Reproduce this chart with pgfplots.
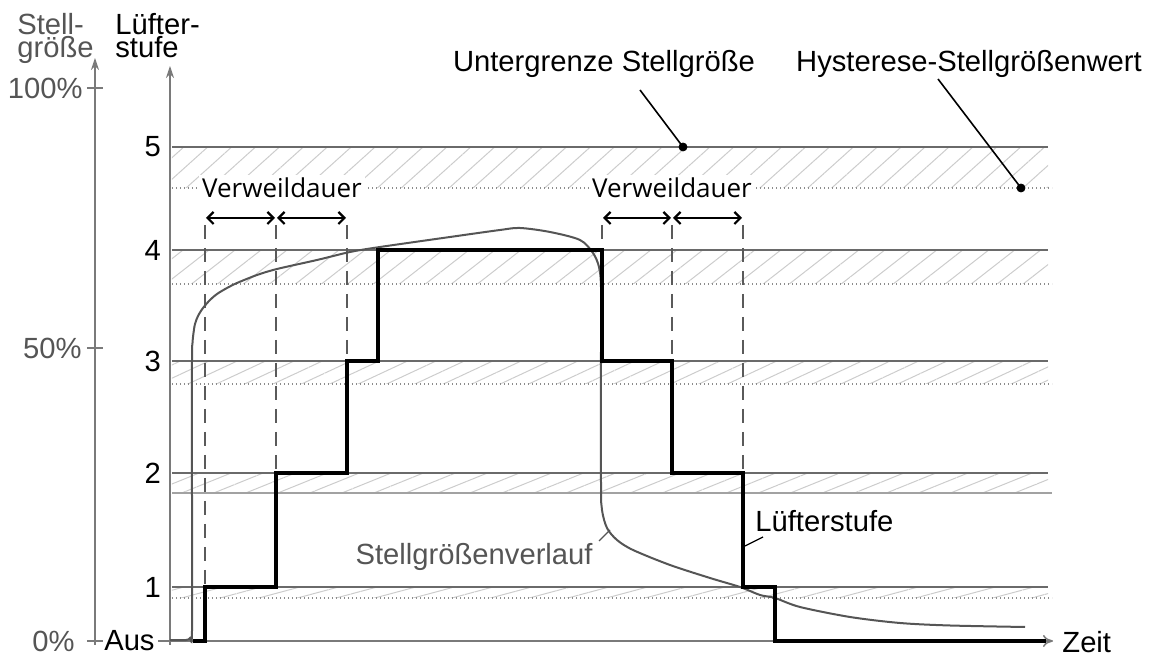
\documentclass[border=0pt]{standalone}
\usepackage{fontspec}
\setmainfont{Liberation Sans}
\newfontfamily\vwfont{Open Sans}
\usepackage{pgfplots}
\pgfplotsset{compat=1.18}
\usetikzlibrary{patterns.meta,arrows.meta}

\definecolor{axgray}{HTML}{7A7A7A}
\definecolor{linegray}{HTML}{6A6A6A}
\definecolor{dotgray}{HTML}{8C8C8C}
\definecolor{hatchgray}{HTML}{CCCCCC}
\definecolor{curvegray}{HTML}{555555}
\definecolor{dashgray}{HTML}{5A5A5A}

% schematic units: x = time, y = Stellgroesse (0 = Aus / 0 %)
\begin{document}
\begin{tikzpicture}[font=\fontsize{14.6}{17}\selectfont]
\begin{axis}[
    x=0.5pt, y=0.5pt,
    xmin=-12, xmax=883, ymin=-4, ymax=575,
    axis x line=center, axis y line=center,
    x axis line style={axgray, line width=0.75pt, -{To[length=5pt,width=6pt]}},
    y axis line style={axgray, line width=0.75pt, -{Stealth[length=6pt,width=4pt]}},
    xtick=\empty,
    ytick={54,168,280,391,494},
    yticklabels={1,2,3,4,5},
    major tick length=0pt,
    yticklabel style={anchor=east, xshift=-1pt},
    clip=false,
]

% hysteresis bands
\addplot[draw=none, pattern={Lines[angle=42,distance=8pt,line width=0.5pt]}, pattern color=hatchgray]
    coordinates {(2,453) (878,453) (878,494) (2,494)} -- cycle;
\addplot[draw=none, pattern={Lines[angle=38,distance=8pt,line width=0.5pt]}, pattern color=hatchgray]
    coordinates {(2,357) (878,357) (878,391) (2,391)} -- cycle;
\addplot[draw=none, pattern={Lines[angle=25,distance=6pt,line width=0.5pt]}, pattern color=hatchgray]
    coordinates {(2,257) (878,257) (878,280) (2,280)} -- cycle;
\addplot[draw=none, pattern={Lines[angle=22,distance=6pt,line width=0.5pt]}, pattern color=hatchgray]
    coordinates {(2,148) (878,148) (878,168) (2,168)} -- cycle;
\addplot[draw=none, pattern={Lines[angle=15,distance=5pt,line width=0.5pt]}, pattern color=hatchgray]
    coordinates {(2,43) (878,43) (878,54) (2,54)} -- cycle;

% level lines
\addplot[linegray, line width=0.6pt] coordinates {(2,494) (878,494)};
\addplot[linegray, line width=0.6pt] coordinates {(2,391) (878,391)};
\addplot[linegray, line width=0.6pt] coordinates {(2,280) (878,280)};
\addplot[linegray, line width=0.6pt] coordinates {(2,168) (878,168)};
\addplot[linegray, line width=0.6pt] coordinates {(2,54) (878,54)};

% hysteresis thresholds
\addplot[dotgray, line width=0.6pt, dash pattern=on 0.7pt off 1.3pt] coordinates {(2,453) (882,453)};
\addplot[dotgray, line width=0.6pt, dash pattern=on 0.7pt off 1.3pt] coordinates {(2,357) (882,357)};
\addplot[dotgray, line width=0.6pt, dash pattern=on 0.7pt off 1.3pt] coordinates {(2,257) (882,257)};
\addplot[axgray!70, line width=0.6pt] coordinates {(2,148) (882,148)};
\addplot[dotgray, line width=0.6pt, dash pattern=on 0.7pt off 1.3pt] coordinates {(2,43) (882,43)};

% dwell time markers
\addplot[dashgray, line width=0.7pt, dash pattern=on 7pt off 4.5pt] coordinates {(35,416) (35,54)};
\addplot[dashgray, line width=0.7pt, dash pattern=on 7pt off 4.5pt] coordinates {(106,416) (106,168)};
\addplot[dashgray, line width=0.7pt, dash pattern=on 7pt off 4.5pt] coordinates {(177,416) (177,280)};
\addplot[dashgray, line width=0.7pt, dash pattern=on 7pt off 4.5pt] coordinates {(432,416) (432,391)};
\addplot[dashgray, line width=0.7pt, dash pattern=on 7pt off 4.5pt] coordinates {(502,416) (502,280)};
\addplot[dashgray, line width=0.7pt, dash pattern=on 7pt off 4.5pt] coordinates {(573,416) (573,168)};

\draw[line width=1.1pt, {Straight Barb[length=3pt]}-{Straight Barb[length=3pt]}] (axis cs:36,423) -- (axis cs:105,423);
\draw[line width=1.1pt, {Straight Barb[length=3pt]}-{Straight Barb[length=3pt]}] (axis cs:107,423) -- (axis cs:176,423);
\draw[line width=1.1pt, {Straight Barb[length=3pt]}-{Straight Barb[length=3pt]}] (axis cs:433,423) -- (axis cs:501,423);
\draw[line width=1.1pt, {Straight Barb[length=3pt]}-{Straight Barb[length=3pt]}] (axis cs:503,423) -- (axis cs:572,423);

\node[fill=white, inner sep=1.5pt, font=\vwfont\fontsize{13}{15}\selectfont] at (axis cs:112,453) {Verweildauer};
\node[fill=white, inner sep=1.5pt, font=\vwfont\fontsize{13}{15}\selectfont] at (axis cs:502,453) {Verweildauer};

% Stellgroessenverlauf
\addplot[curvegray, line width=1pt, smooth, tension=0.5] coordinates {
    (0,1) (16,1) (20,3) (22,10) (22,150) (22,280) (22.5,298) (23.5,308)
    (25,317) (28,325) (33,333) (40,341) (47,347) (57,353) (67,358)
    (87,366) (107,372) (147,381) (180,389) (210,394) (280,404)
    (330,411) (350,413) (380,409) (410,401) (423,388) (429,374) (431,354)
    (431,300) (431,158) (432,131) (437,113) (447,101) (463,91) (500,76)
    (540,63) (570,54) (590,46) (605,43) (630,34) (680,24) (730,18)
    (780,15.5) (855,14)
};

% Luefterstufe
\addplot[black, line width=2pt, const plot] coordinates {
    (23,0) (35,54) (106,168) (177,280) (208,391) (432,280) (502,168)
    (573,54) (605,0) (876,0)
};

% annotation points
\addplot[black, only marks, mark=*, mark size=2pt] coordinates {(513,494) (851,453)};
\draw[black, line width=0.8pt] (axis cs:470,551) -- (axis cs:513,494);
\draw[black, line width=0.8pt] (axis cs:768,562) -- (axis cs:851,453);
\node[anchor=base] at (axis cs:434,569) {Untergrenze Stellgröße};
\node[anchor=base] at (axis cs:799,569) {Hysterese-Stellgrößenwert};

\node[anchor=base west, inner sep=0pt] at (axis cs:585,109) {Lüfterstufe};
\draw[black, line width=0.6pt] (axis cs:575,95) -- (axis cs:593,104);
\node[anchor=base east, inner sep=0pt, text=curvegray] at (axis cs:423,76) {Stellgrößenverlauf};
\draw[curvegray, line width=0.6pt] (axis cs:429,100) -- (axis cs:440,111);

% left axis (Stellgroesse)
\draw[axgray, line width=0.75pt, -{Stealth[length=6pt,width=4pt]}] (axis cs:-75,-4) -- (axis cs:-75,583);
\draw[axgray, line width=0.75pt] (axis cs:-83,553) -- (axis cs:-67,553);
\draw[axgray, line width=0.75pt] (axis cs:-83,293) -- (axis cs:-67,293);
\draw[axgray, line width=0.75pt] (axis cs:-83,0) -- (axis cs:-67,0);
\node[anchor=east, inner sep=0pt, text=curvegray] at (axis cs:-87,553) {100\%};
\node[anchor=east, inner sep=0pt, text=curvegray] at (axis cs:-88,293) {50\%};
\node[anchor=east, inner sep=0pt, text=curvegray] at (axis cs:-95,0) {0\%};
\node[anchor=north west, inner sep=0pt, align=left, text=curvegray,
      font=\fontsize{14.6}{11.5}\selectfont] at (axis cs:-153,628) {Stell-\\größe};
\node[anchor=north west, inner sep=0pt, align=left,
      font=\fontsize{14.6}{11.5}\selectfont] at (axis cs:-55,628) {Lüfter-\\stufe};
\node[anchor=east, inner sep=0pt] at (axis cs:-15,0) {Aus};
\node[anchor=base west, inner sep=0pt] at (axis cs:892,-12) {Zeit};

\coordinate (bbA) at (axis cs:-170,-16);
\coordinate (bbB) at (axis cs:986,641);
\end{axis}
\pgfresetboundingbox
\path[use as bounding box] (bbA) rectangle (bbB);
\end{tikzpicture}
\end{document}
